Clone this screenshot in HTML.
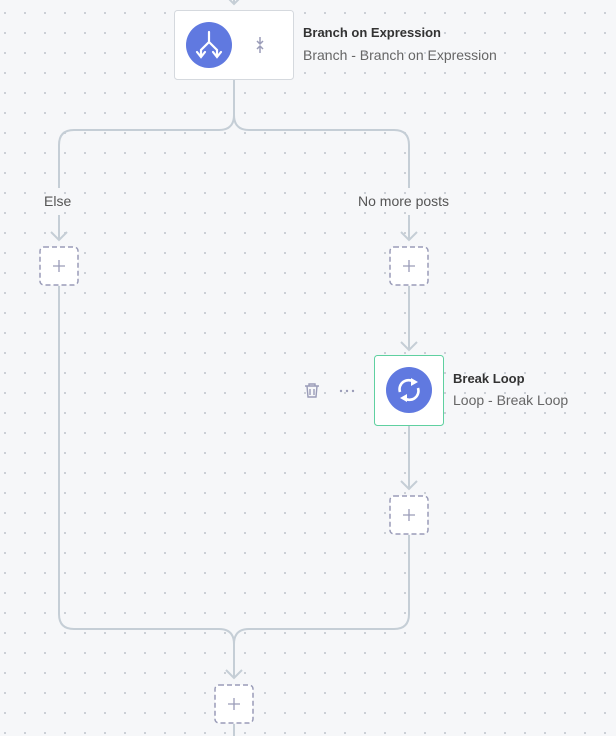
<!DOCTYPE html>
<html><head><style>
body{margin:0;width:616px;height:736px;overflow:hidden;background-color:#f6f7f9;
background-image:radial-gradient(circle,#c4c8d0 0.8px,transparent 1.2px);background-size:20px 20px;background-position:-5px 3px;
font-family:"Liberation Sans",sans-serif;position:relative}
.t{position:absolute;font-size:14px;color:#666;}
.b{position:absolute;font-size:13px;font-weight:bold;color:#333}
</style></head><body>
<svg width="616" height="736" style="position:absolute;left:0;top:0">
<g fill="none" stroke="#c5ced6" stroke-width="2">
<path d="M234 0V4"/>
<path d="M228 -2L234 4L240 -2"/>
<path d="M234 80V115Q234 130 219 130H74Q59 130 59 145V188"/>
<path d="M234 115Q234 130 249 130H394Q409 130 409 145V188"/>
<path d="M59 215V240M51 232L59 240L67 232"/>
<path d="M409 215V240M401 232L409 240L417 232"/>
<path d="M59 286V614Q59 629 74 629H219Q234 629 234 644V678M226 670L234 678L242 670"/>
<path d="M409 286V350M401 342L409 350L417 342"/>
<path d="M409 426V489M401 481L409 489L417 481"/>
<path d="M409 535V614Q409 629 394 629H249Q234 629 234 644"/>
<path d="M234 724V736"/>
</g>
<rect x="174.5" y="10.5" width="119" height="69" rx="3" fill="#fff" stroke="#d5d9de"/>
<circle cx="209" cy="45" r="23" fill="#6079e0"/>
<g stroke="#fff" stroke-width="2.2" fill="none" stroke-linecap="round"><path d="M209 32V42L201 50V56M209 42L217 50V56"/><path d="M197 52L201 57L205 52M213 52L217 57L221 52"/></g>
<g stroke="#9a9cb8" stroke-width="1.5" fill="none"><path d="M260 37V44M257 41L260 44L263 41M260 53V46M257 49L260 46L263 49"/></g>
<rect x="374.5" y="355.5" width="69" height="70" rx="3" fill="#fff" stroke="#5fd0a0"/>
<circle cx="409" cy="390" r="23" fill="#6079e0"/>
<g stroke="#fff" stroke-width="2.6" fill="none"><path d="M400 392A9 9 0 0 1 414 382"/><path d="M418 388A9 9 0 0 1 404 398"/></g>
<path d="M411 378L418 382L411 386Z M407 402L400 398L407 394Z" fill="#fff"/>
<g stroke="#9a9cb8" stroke-width="1.4" fill="none"><path d="M305 386H319M309 386V384H315V386M307 386L308 397H316L317 386M310 389V395M314 389V395"/></g>
<g fill="#9a9cb8"><circle cx="341" cy="391" r="1.2"/><circle cx="347" cy="391" r="1.2"/><circle cx="353" cy="391" r="1.2"/></g>
<g fill="#fff" stroke="#9a9cb8" stroke-width="1.5" stroke-dasharray="5 3">
<rect x="40" y="247" width="38" height="38" rx="4"/>
<rect x="390" y="247" width="38" height="38" rx="4"/>
<rect x="390" y="496" width="38" height="38" rx="4"/>
<rect x="215" y="685" width="38" height="38" rx="4"/>
</g>
<g stroke="#9a9cb8" stroke-width="1.3">
<path d="M53 266H65M59 260V272"/><path d="M403 266H415M409 260V272"/>
<path d="M403 515H415M409 509V521"/><path d="M228 704H240M234 698V710"/>
</g>
</svg>
<div class="b" style="left:303px;top:25px">Branch on Expression</div>
<div class="t" style="left:303px;top:47px">Branch - Branch on Expression</div>
<div class="b" style="left:453px;top:371px">Break Loop</div>
<div class="t" style="left:453px;top:392px">Loop - Break Loop</div>
<div class="t" style="left:44px;top:193px;color:#555">Else</div>
<div class="t" style="left:358px;top:193px;color:#555">No more posts</div>
</body></html>
